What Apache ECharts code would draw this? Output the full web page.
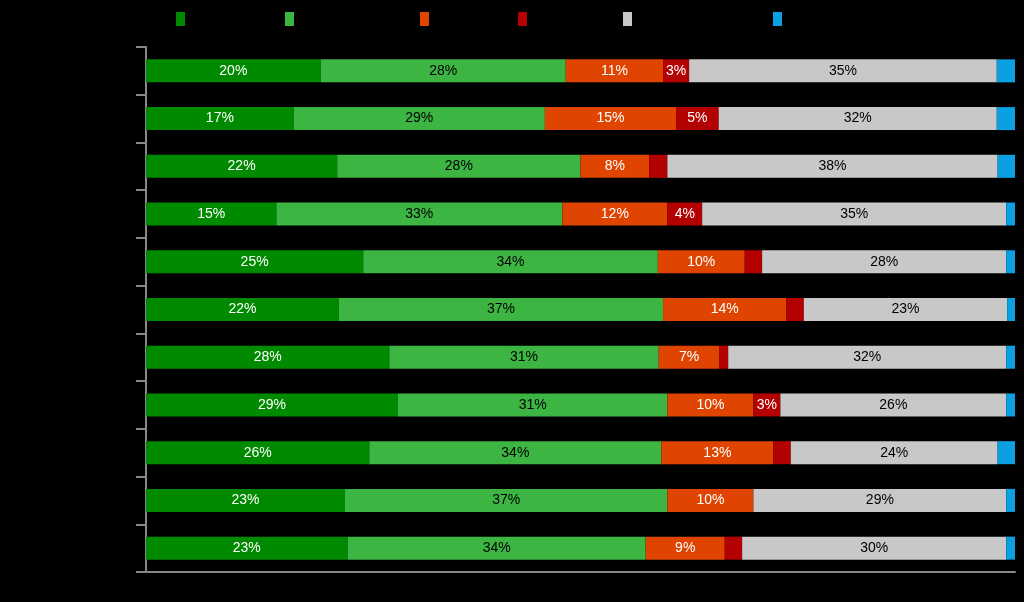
<!DOCTYPE html>
<html>
<head>
<meta charset="utf-8">
<style>
html,body{margin:0;padding:0;background:#000;}
#chart{width:1024px;height:602px;}
</style>
<script src="https://cdn.jsdelivr.net/npm/echarts@6/dist/echarts.min.js"></script>
</head>
<body>
<div id="chart"></div>
<script>
const categories = ['Item 1','Item 2','Item 3','Item 4','Item 5','Item 6','Item 7','Item 8','Item 9','Item 10','Item 11'];
const seriesNames = ['Strongly agree','Agree','Disagree','Strongly disagree','Neither','Don\'t know'];
const stronglyAgree    = [20.1, 17.0, 22.0, 15.0, 25.0, 22.2, 28.0, 29.0, 25.7, 22.9, 23.2];
const agree            = [28.2, 28.9, 28.0, 32.9, 33.9, 37.3, 31.0, 31.0, 33.6, 37.1, 34.3];
const disagree         = [11.2, 15.1,  7.9, 12.1, 10.0, 14.2,  7.0,  9.9, 12.9,  9.9,  9.1];
const stronglyDisagree = [ 3.0,  4.9,  2.1,  4.0,  2.0,  2.0,  1.0,  3.1,  2.0,  0.0,  2.0];
const neither          = [35.4, 32.0, 38.0, 35.0, 28.1, 23.4, 32.0, 26.0, 23.8, 29.1, 30.4];
const dontKnow         = [ 2.1,  2.1,  2.1,  1.0,  1.0,  1.0,  1.0,  1.0,  2.1,  1.0,  1.0];

const values = [stronglyAgree, agree, disagree, stronglyDisagree, neither, dontKnow];
const colors = ['#008a00','#3cb543','#df4400','#b30000','#c8c8c8','#0aa0e2'];
const labelColors = ['#ffffff','#000000','#ffffff','#ffffff','#000000','#000000'];
const showLabels = [true,true,true,true,true,false];
const legendLefts = [176, 285, 420, 518, 623, 773];

const chart = echarts.init(document.getElementById('chart'));
const series = values.map((arr, i) => ({
  name: seriesNames[i],
  type: 'bar',
  stack: 'total',
  data: arr,
  barWidth: 23,
  itemStyle: { color: colors[i] },
  label: {
    show: showLabels[i],
    position: 'inside',
    color: labelColors[i],
    fontFamily: 'Liberation Sans, Arial, sans-serif',
    fontSize: 14,
    formatter: p => p.value >= 2.5 ? Math.round(p.value) + '%' : ''
  },
  emphasis: { disabled: true },
  animation: false
}));

chart.setOption({
  backgroundColor: '#000000',
  animation: false,
  legend: seriesNames.map((n, i) => ({
    data: [n],
    left: legendLefts[i],
    top: 12,
    padding: 0,
    itemWidth: 9,
    itemHeight: 14,
    itemGap: 0,
    icon: 'rect',
    textStyle: { color: '#000000', fontSize: 12 },
    selectedMode: false
  })),
  grid: { left: 146, right: 9, top: 47, bottom: 30, containLabel: false },
  xAxis: {
    type: 'value',
    min: 0,
    max: 100,
    axisLine: { show: true, lineStyle: { color: '#888888', width: 2 } },
    axisTick: { show: false },
    axisLabel: { show: false },
    splitLine: { show: false }
  },
  yAxis: {
    type: 'category',
    inverse: true,
    data: categories,
    axisLine: { show: true, lineStyle: { color: '#888888', width: 2 } },
    axisTick: { show: true, length: 10, lineStyle: { color: '#888888', width: 2 } },
    axisLabel: { show: true, color: '#000000' }
  },
  series: series
});
</script>
</body>
</html>
